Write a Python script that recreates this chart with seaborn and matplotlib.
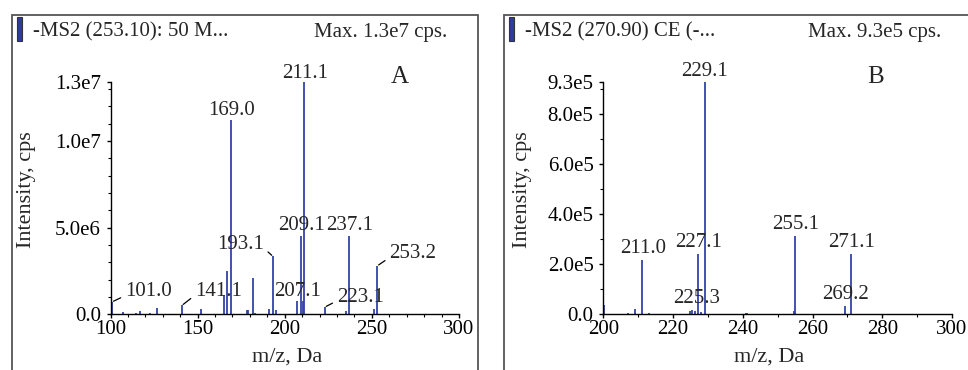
import pandas as pd
import matplotlib.pyplot as plt
import seaborn as sns
import numpy as np
from matplotlib.patches import Rectangle
from matplotlib.ticker import MultipleLocator

#------------------------------------------- Dados dos espectros -------------------------------------------

# Espectro A: m/z e intensidade (cps)
mz_a = [101.0, 107.0, 114.6, 117.0, 122.7, 126.9, 141.1, 151.8, 165.0, 167.0, 169.0,
        178.2, 178.8, 182.0, 183.0, 191.0, 193.1, 195.0, 207.1, 209.1, 210.2, 211.1,
        223.1, 235.0, 237.1, 251.2, 253.2]
intensidade_a = [0.72e6, 0.13e6, 0.10e6, 0.20e6, 0.08e6, 0.35e6, 0.52e6, 0.30e6, 1.10e6, 2.50e6, 11.2e6,
                 0.25e6, 0.22e6, 2.10e6, 0.10e6, 0.28e6, 3.35e6, 0.25e6, 0.74e6, 4.50e6, 0.74e6, 13.4e6,
                 0.42e6, 0.20e6, 4.50e6, 0.33e6, 2.80e6]

# Espectro B
mz_b = [200.2, 205.0, 207.2, 209.1, 211.0, 213.2, 224.9, 225.3, 226.2, 227.1, 228.0, 229.1,
        236.9, 240.9, 241.2, 253.2, 254.7, 255.1, 256.4, 269.2, 271.1]
intensidade_b = [3.6e4, 0.3e4, 0.5e4, 2.3e4, 21.6e4, 0.4e4, 1.4e4, 1.6e4, 1.4e4, 24.0e4, 1.0e4, 93.0e4,
                 0.3e4, 0.6e4, 0.5e4, 0.3e4, 1.4e4, 31.2e4, 0.3e4, 3.3e4, 24.0e4]

# Rotulos dos picos
rotulos_a = ["101.0", "141.1", "169.0", "193.1", "207.1", "209.1", "211.1", "223.1", "237.1", "253.2"]
rotulos_b = ["211.0", "225.3", "227.1", "229.1", "255.1", "269.2", "271.1"]

# Ticks do eixo y
yticks_a = [0, 5e6, 1e7, 13.4e6]
ylabels_a = ["0.0", "5.0e6", "1.0e7", "1.3e7"]
yticks_b = [0, 2e5, 4e5, 6e5, 8e5, 9.3e5]
ylabels_b = ["0.0", "2.0e5", "4.0e5", "6.0e5", "8.0e5", "9.3e5"]

# Cabecalhos
cabecalho_a = ["-MS2 (253.10): 50 M...", "Max. 1.3e7 cps."]
cabecalho_b = ["-MS2 (270.90) CE (-...", "Max. 9.3e5 cps."]

espectro_a = pd.DataFrame({"mz": mz_a, "intensidade": intensidade_a})
espectro_b = pd.DataFrame({"mz": mz_b, "intensidade": intensidade_b})

#------------------------------------------- Estilo -------------------------------------------

sns.set_theme(style="ticks")
plt.rcParams["font.family"] = ["Liberation Serif", "DejaVu Serif"]
plt.rcParams["axes.linewidth"] = 1.0
plt.rcParams["xtick.color"] = "black"
plt.rcParams["ytick.color"] = "black"

azul = "#3343a8"
W, H = 968, 370

fig = plt.figure(figsize=(W / 100, H / 100), dpi=100)

def px(x, y):
    # converte pixel (a partir do topo) para fracao da figura
    return x / W, 1 - y / H

# Posicoes dos rotulos (offset em pixels, alinhamento, linha guia)
pos_a = {
    "101.0": (13, 10, "left", True),
    "141.1": (13, 14, "left", True),
    "169.0": (1, 10, "center", False),
    "193.1": (-9, 12, "right", True),
    "207.1": (0, 10, "center", False),
    "209.1": (1, 11, "center", False),
    "211.1": (1, 9, "center", False),
    "223.1": (12, 10, "left", True),
    "237.1": (0, 11, "center", False),
    "253.2": (12, 12, "left", True),
}
pos_b = {
    "211.0": (1, 12, "center", False),
    "225.3": (5, 12, "center", False),
    "227.1": (1, 12, "center", False),
    "229.1": (0, 10, "center", False),
    "255.1": (0, 12, "center", False),
    "269.2": (1, 12, "center", False),
    "271.1": (0, 12, "center", False),
}


def desenha_painel(esp, rotulos, posicoes, ax_px, xlim, xmaj, ymin_loc, yticks, ylabels):
    x0, x1, ytop, ybot = ax_px
    ax = fig.add_axes([x0 / W, 1 - ybot / H, (x1 - x0) / W, (ybot - ytop) / H])
    ax.vlines(esp.mz, 0, esp.intensidade, color=azul, lw=1.3)
    ax.set_xlim(*xlim)
    ax.set_ylim(0, esp.intensidade.max())
    ax.set_xticks(np.arange(xlim[0], xlim[1] + 1, xmaj))
    ax.xaxis.set_minor_locator(MultipleLocator(10))
    ax.yaxis.set_minor_locator(MultipleLocator(ymin_loc))
    ax.set_yticks(yticks, ylabels)
    ax.tick_params(axis="both", which="major", length=3, width=1, labelsize=15)
    ax.tick_params(axis="x", which="major", pad=1)
    ax.tick_params(axis="y", which="major", pad=4)
    ax.tick_params(axis="both", which="minor", length=2, width=0.8)
    ax.set_facecolor("white")
    sns.despine(ax=ax)
    for s in ["left", "bottom"]:
        ax.spines[s].set_color("black")

    for texto in rotulos:
        dx, dy, ha, linha = posicoes[texto]
        pico = esp.iloc[(esp.mz - float(texto)).abs().argmin()]
        seta = None
        if linha:
            rel = (0, 0.3) if ha == "left" else (1, 0.3)
            seta = dict(arrowstyle="-", lw=0.9, color="black", shrinkA=1, shrinkB=1, relpos=rel)
        ax.annotate(texto, xy=(pico.mz, pico.intensidade), xytext=(dx, dy),
                    textcoords="offset pixels", ha=ha, va="center", fontsize=15,
                    arrowprops=seta, annotation_clip=False)
    return ax


ax_a = desenha_painel(espectro_a, rotulos_a, pos_a, (110.5, 459, 82, 314.3), (100, 300), 50, 1e6,
                      yticks_a, ylabels_a)
ax_b = desenha_painel(espectro_b, rotulos_b, pos_b, (603.3, 952, 82, 314.3), (200, 300), 20, 1e5,
                      yticks_b, ylabels_b)

#------------------------------------------- Molduras e textos -------------------------------------------

for (xe, xd), cab, letra, xl, xy_lab, xx_lab in [
    ((12, 478), cabecalho_a, "A", 400, 27, 287),
    ((504, 975), cabecalho_b, "B", 876, 523, 769),
]:
    fx, fy = px(xe, 15)
    fig.patches.append(Rectangle((fx, -0.02), (xd - xe) / W, fy + 0.02, transform=fig.transFigure,
                                 fill=False, edgecolor="#555555", lw=1.3))
    bx, by = px(xe + 5, 41)
    fig.patches.append(Rectangle((bx, by), 5 / W, 24 / H, transform=fig.transFigure,
                                 facecolor="#2e3c9e", edgecolor="#333333", lw=0.8))
    tx, ty = px(xe + 21, 32)
    fig.text(tx, ty, cab[0], fontsize=15, va="center", ha="left")
    tx2, _ = px(xd - 31 if letra == "A" else 941, 32)
    fig.text(tx2, ty, cab[1], fontsize=15, va="center", ha="right")
    lx, ly = px(xl, 77)
    fig.text(lx, ly, letra, fontsize=18, va="center", ha="center")
    yx, yy = px(xy_lab, 190)
    fig.text(yx, yy, "Intensity, cps", fontsize=16, rotation=90, va="center", ha="center")
    mx, my = px(xx_lab, 357)
    fig.text(mx, my, "m/z, Da", fontsize=16, va="center", ha="center")

plt.savefig("out.png", dpi=100)
